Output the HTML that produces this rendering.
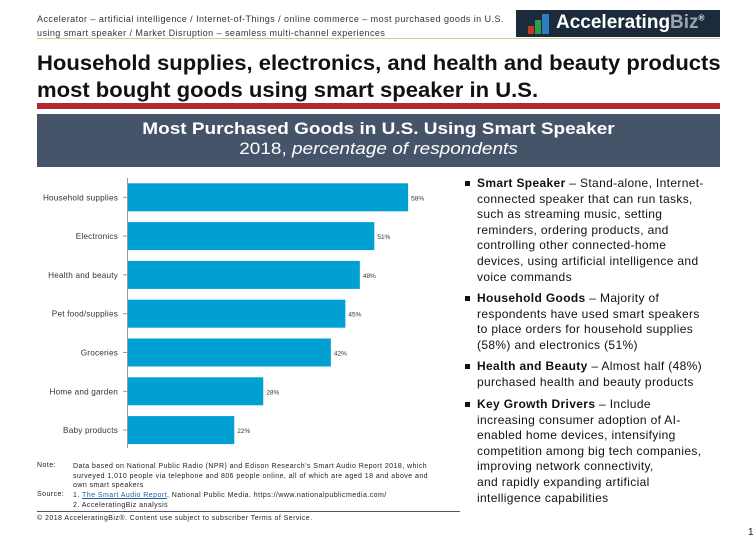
<!DOCTYPE html>
<html><head><meta charset="utf-8"><style>
body{margin:0;width:756px;height:540px;background:#fff;position:relative;overflow:hidden;font-family:"Liberation Sans",sans-serif;color:#111}
.a{position:absolute;white-space:nowrap}
.r{font-size:12px;line-height:15.6px;color:#111;left:477px;letter-spacing:0.35px}
.bl{position:absolute;left:465px;width:5px;height:5px;background:#111}
.sm{font-size:7px;color:#222;letter-spacing:0.45px}
</style></head><body>
<div class="a" style="left:37px;top:12px;font-size:9px;line-height:14px;color:#333;letter-spacing:0.45px">Accelerator – artificial intelligence / Internet-of-Things / online commerce – most purchased goods in U.S.<br>using smart speaker / Market Disruption – seamless multi-channel experiences</div>
<div class="a" style="left:37px;top:38px;width:683px;height:1px;background:#d8c890"></div>
<div class="a" style="left:516px;top:10px;width:204px;height:27px;background:#1c2b3c">
<svg class="a" style="left:12px;top:4px" width="22" height="20"><rect x="0" y="12" width="6" height="8" fill="#c0392b"/><rect x="7" y="6" width="6" height="14" fill="#2e9e44"/><rect x="14" y="0" width="7" height="20" fill="#2a7fc0"/></svg>
<div class="a" style="left:40px;top:2px;font-size:19px;font-weight:bold;color:#fff">Accelerating<span style="color:#9aa4b0">Biz</span><sup style="font-size:8px">®</sup></div></div>
<div class="a" style="left:37px;top:50px;font-size:21px;line-height:27px;font-weight:bold;color:#111;transform:scaleX(1.05);transform-origin:left top">Household supplies, electronics, and health and beauty products<br>most bought goods using smart speaker in U.S.</div>
<div class="a" style="left:37px;top:103px;width:683px;height:6px;background:#b22a30"></div>
<div class="a" style="left:37px;top:114px;width:683px;height:53px;background:#46546a;color:#fff;text-align:center;font-size:16.5px;line-height:20px;padding-top:5px;box-sizing:border-box"><div style="transform:scaleX(1.15)"><b>Most Purchased Goods in U.S. Using Smart Speaker</b><br>2018, <i>percentage of respondents</i></div></div>
<svg class="a" style="left:0;top:170px" width="450" height="285" id="chart"></svg>
<script>
const categories=["Household supplies","Electronics","Health and beauty","Pet food/supplies","Groceries","Home and garden","Baby products"];
const values=[58,51,48,45,42,28,22];
const labels=["58%","51%","48%","45%","42%","28%","22%"];
const svg=document.getElementById('chart');const NS='http://www.w3.org/2000/svg';
const x0=128,scale=4.83,top0=13.3,pitch=38.8,bh=28;
const xs=v=>v*scale;
function mk(t,a){const e=document.createElementNS(NS,t);for(const k in a)e.setAttribute(k,a[k]);svg.appendChild(e);return e;}
const ax=mk('line',{x1:x0-0.5,x2:x0-0.5,y1:8,y2:278,stroke:'#999','stroke-width':1});


categories.forEach((c,i)=>{const y=top0+i*pitch;
const b=mk('rect',{x:x0,y:y,width:xs(values[i]),height:bh,fill:'#00a0d2'});


const tk=mk('line',{x1:x0-5,x2:x0,y1:y+bh/2,y2:y+bh/2,stroke:'#999'});


const t=mk('text',{x:x0-10,y:y+bh/2+3,'text-anchor':'end','font-size':'8.2','fill':'#333','font-family':'Liberation Sans','letter-spacing':'0.2'});t.textContent=c;


const v=mk('text',{x:x0+xs(values[i])+3,y:y+bh/2+3,'font-size':'6.5','fill':'#333','font-family':'Liberation Sans'});v.textContent=labels[i];

});
</script>
<div>
<div class="bl" style="top:181px"></div>
<div class="a r" style="top:176px"><b>Smart Speaker</b> – Stand-alone, Internet-</div>
<div class="a r" style="top:191.6px">connected speaker that can run tasks,</div>
<div class="a r" style="top:207.2px">such as streaming music, setting</div>
<div class="a r" style="top:222.8px">reminders, ordering products, and</div>
<div class="a r" style="top:238.4px">controlling other connected-home</div>
<div class="a r" style="top:254px">devices, using artificial intelligence and</div>
<div class="a r" style="top:269.6px">voice commands</div>
<div class="bl" style="top:296px"></div>
<div class="a r" style="top:291px"><b>Household Goods</b> – Majority of</div>
<div class="a r" style="top:306.6px">respondents have used smart speakers</div>
<div class="a r" style="top:322.2px">to place orders for household supplies</div>
<div class="a r" style="top:337.8px">(58%) and electronics (51%)</div>
<div class="bl" style="top:364px"></div>
<div class="a r" style="top:359px"><b>Health and Beauty</b> – Almost half (48%)</div>
<div class="a r" style="top:374.6px">purchased health and beauty products</div>
<div class="bl" style="top:402px"></div>
<div class="a r" style="top:397px"><b>Key Growth Drivers</b> – Include</div>
<div class="a r" style="top:412.6px">increasing consumer adoption of AI-</div>
<div class="a r" style="top:428.2px">enabled home devices, intensifying</div>
<div class="a r" style="top:443.8px">competition among big tech companies,</div>
<div class="a r" style="top:459.4px">improving network connectivity,</div>
<div class="a r" style="top:475px">and rapidly expanding artificial</div>
<div class="a r" style="top:490.6px">intelligence capabilities</div>
</div>
<div>
<div class="a sm" style="left:37px;top:462px">Note:</div>
<div class="a sm" style="left:73px;top:462px;line-height:9.5px">Data based on National Public Radio (NPR) and Edison Research's Smart Audio Report 2018, which<br>surveyed 1,010 people via telephone and 806 people online, all of which are aged 18 and above and<br>own smart speakers</div>
<div class="a sm" style="left:37px;top:491px">Source:</div>
<div class="a sm" style="left:73px;top:491px;line-height:10px">1. <u style="color:#1f5f9f">The Smart Audio Report</u>, National Public Media. https://www.nationalpublicmedia.com/<br>2. AcceleratingBiz analysis</div>
<div class="a" style="left:37px;top:511px;width:423px;height:1px;background:#556"></div>
<div class="a sm" style="left:37px;top:515px">© 2018 AcceleratingBiz®. Content use subject to subscriber Terms of Service.</div>
</div>
<div class="a" style="left:748px;top:527px;font-size:10px">1</div>
</body></html>
